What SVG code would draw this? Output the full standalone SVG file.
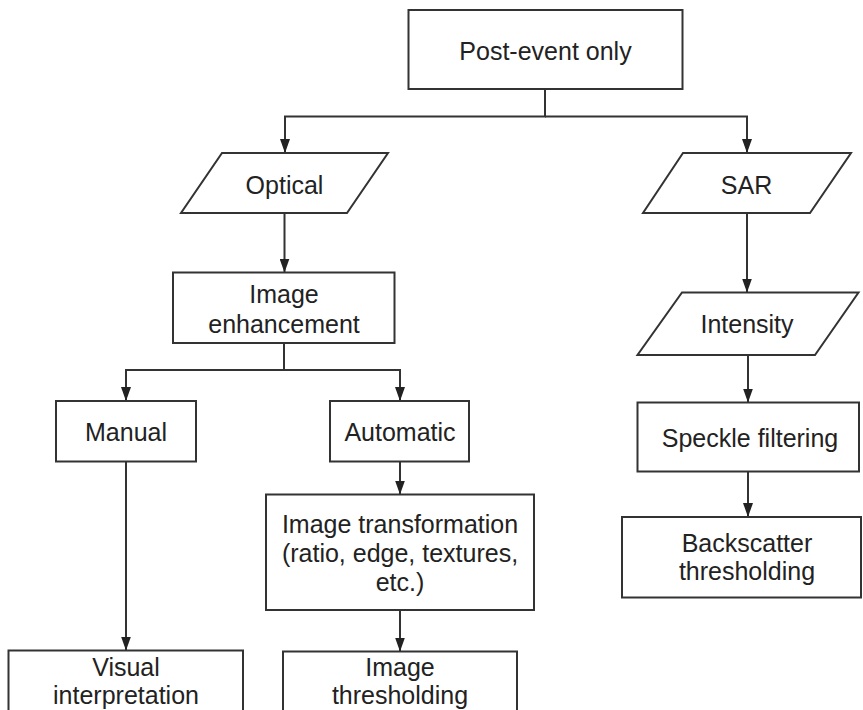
<svg xmlns="http://www.w3.org/2000/svg" width="863" height="710" viewBox="0 0 863 710">
<style>
.box{fill:#fff;stroke:#333;stroke-width:2}
.lbl{font-family:"Liberation Sans",Arial,Helvetica,sans-serif;font-size:25px;fill:#222;text-anchor:middle}
.con{fill:none;stroke:#333;stroke-width:2}
</style>
<defs>
<marker id="arr" viewBox="0 0 14 10" refX="14" refY="5" markerWidth="14" markerHeight="10" markerUnits="userSpaceOnUse" orient="auto">
<path d="M0,0 L14,5 L0,10 z" fill="#222"/>
</marker>
</defs>
<rect width="863" height="710" fill="#fff"/>
<g id="connectors">
<path class="con" d="M545,89 V116.5 H285 V153" marker-end="url(#arr)"/>
<path class="con" d="M545,116.5 H747 V153" marker-end="url(#arr)"/>
<path class="con" d="M284.5,213 V272.5" marker-end="url(#arr)"/>
<path class="con" d="M284,343 V370 H126 V401" marker-end="url(#arr)"/>
<path class="con" d="M284,370 H400 V401" marker-end="url(#arr)"/>
<path class="con" d="M126,461.5 V650.5" marker-end="url(#arr)"/>
<path class="con" d="M400,461.5 V494.5" marker-end="url(#arr)"/>
<path class="con" d="M400,610 V651.5" marker-end="url(#arr)"/>
<path class="con" d="M747,213 V292.5" marker-end="url(#arr)"/>
<path class="con" d="M748,355 V402.5" marker-end="url(#arr)"/>
<path class="con" d="M748,471.5 V517" marker-end="url(#arr)"/>
</g>
<g id="post-event">
<rect class="box" x="408.5" y="10" width="274" height="79"/>
<text class="lbl" x="545.5" y="60">Post-event only</text>
</g>
<g id="optical">
<polygon class="box" points="222,153 388,153 347,213 181,213"/>
<text class="lbl" x="284.5" y="194">Optical</text>
</g>
<g id="sar">
<polygon class="box" points="683,153 851,153 810,213 643,213"/>
<text class="lbl" x="746.5" y="194">SAR</text>
</g>
<g id="image-enhancement">
<rect class="box" x="173" y="272.5" width="221.5" height="70.5"/>
<text class="lbl" x="284" y="303">Image</text>
<text class="lbl" x="284" y="333">enhancement</text>
</g>
<g id="manual">
<rect class="box" x="56" y="401" width="140" height="60.5"/>
<text class="lbl" x="126" y="441">Manual</text>
</g>
<g id="automatic">
<rect class="box" x="330" y="401" width="139" height="60.5"/>
<text class="lbl" x="400" y="441">Automatic</text>
</g>
<g id="visual-interpretation">
<rect class="box" x="8.5" y="650.5" width="234.5" height="70"/>
<text class="lbl" x="126" y="676">Visual</text>
<text class="lbl" x="126" y="704">interpretation</text>
</g>
<g id="image-transformation">
<rect class="box" x="266" y="494.5" width="268" height="115.5"/>
<text class="lbl" x="400" y="533">Image transformation</text>
<text class="lbl" x="400" y="562">(ratio, edge, textures,</text>
<text class="lbl" x="400" y="591">etc.)</text>
</g>
<g id="image-thresholding">
<rect class="box" x="283" y="651.5" width="234" height="70"/>
<text class="lbl" x="400" y="676">Image</text>
<text class="lbl" x="400" y="704">thresholding</text>
</g>
<g id="intensity">
<polygon class="box" points="682,292.5 858.5,292.5 815,355 637.5,355"/>
<text class="lbl" x="747" y="333">Intensity</text>
</g>
<g id="speckle-filtering">
<rect class="box" x="637.5" y="402.5" width="221.5" height="69"/>
<text class="lbl" x="750" y="447">Speckle filtering</text>
</g>
<g id="backscatter-thresholding">
<rect class="box" x="622" y="517" width="239" height="80.5"/>
<text class="lbl" x="747" y="552">Backscatter</text>
<text class="lbl" x="747" y="580">thresholding</text>
</g>
</svg>
